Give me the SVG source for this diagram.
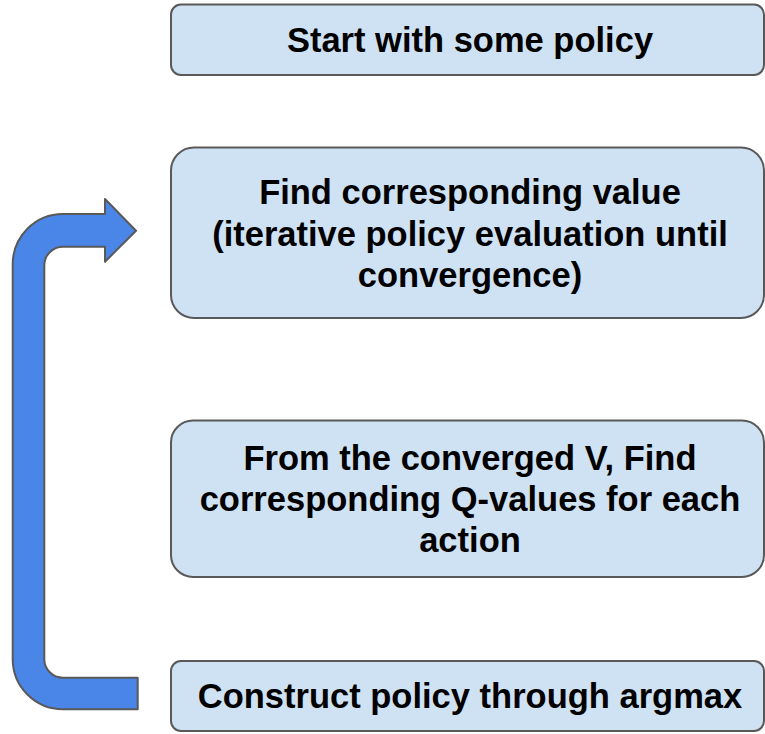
<svg xmlns="http://www.w3.org/2000/svg" width="765" height="734" viewBox="0 0 765 734">
  <style>
    .box { fill: #cfe2f3; stroke: #595959; stroke-width: 2; }
    .label { font-family: "Liberation Sans", Arial, sans-serif; font-weight: bold; font-size: 34.5px; fill: #000000; text-anchor: middle; }
    .loop { fill: #4a86e8; stroke: #595959; stroke-width: 2; stroke-linejoin: round; }
  </style>
  <rect width="765" height="734" fill="#ffffff"/>

  <g id="connectors">
    <!-- bent arrow looping from the last step back to the value step -->
    <path class="loop" d="M 137.7 677.7 L 63 677.7 A 18.7 18.7 0 0 1 44.3 659 L 44.3 265.4 A 18.7 18.7 0 0 1 63 246.7 L 105 246.7 L 105 261.7 L 136 230.7 L 105 199 L 105 214 L 63 214 A 50.3 50.3 0 0 0 12.7 264.3 L 12.7 659 A 50.3 50.3 0 0 0 63 709.3 L 137.7 709.3 Z"/>
  </g>

  <g id="start">
    <rect class="box" x="171" y="4.5" width="593" height="70.5" rx="10" ry="10"/>
    <text class="label" x="470" y="52">Start with some policy</text>
  </g>

  <g id="evaluate">
    <rect class="box" x="171" y="147.5" width="593" height="170.5" rx="23" ry="23"/>
    <text class="label" x="470" y="204">Find corresponding value</text>
    <text class="label" x="470" y="246">(iterative policy evaluation until</text>
    <text class="label" x="470" y="287">convergence)</text>
  </g>

  <g id="qvalues">
    <rect class="box" x="171" y="420.5" width="593" height="156.5" rx="22" ry="22"/>
    <text class="label" x="470" y="470">From the converged V, Find</text>
    <text class="label" x="470" y="511">corresponding Q-values for each</text>
    <text class="label" x="470" y="552">action</text>
  </g>

  <g id="improve">
    <rect class="box" x="171" y="661" width="593" height="70" rx="10" ry="10"/>
    <text class="label" x="470" y="708">Construct policy through argmax</text>
  </g>
</svg>
